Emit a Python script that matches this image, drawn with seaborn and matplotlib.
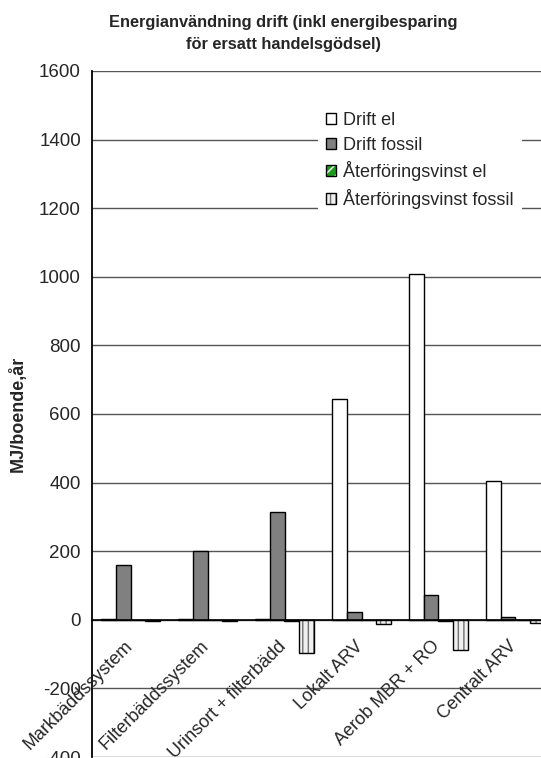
import numpy as np
import pandas as pd
import matplotlib
matplotlib.use("Agg")
import matplotlib.pyplot as plt
import matplotlib.transforms as mtransforms
from matplotlib.colors import to_rgba
import seaborn as sns

categories = ['Markbäddssystem', 'Filterbäddssystem', 'Urinsort + filterbädd',
              'Lokalt ARV', 'Aerob MBR + RO', 'Centralt ARV']
series = ['Drift el', 'Drift fossil', 'Återföringsvinst el', 'Återföringsvinst fossil']
drift_el = [3, 3, 3, 643, 1007, 405]
drift_fossil = [160, 200, 315, 22, 72, 8]
ater_el = [0, 0, -3, 0, -3, 0]
ater_fossil = [-4, -4, -98, -12, -88, -9]
yticks = [-400, -200, 0, 200, 400, 600, 800, 1000, 1200, 1400, 1600]
title1 = 'Energianvändning drift (inkl energibesparing'
title2 = 'för ersatt handelsgödsel)'
ylabel = 'MJ/boende,år'

sns.set_theme(style='white')
plt.rcParams['font.family'] = ['Liberation Sans', 'DejaVu Sans']

df = pd.DataFrame({
    'kategori': categories * 4,
    'serie': sum([[s] * len(categories) for s in series], []),
    'värde': drift_el + drift_fossil + ater_el + ater_fossil,
})

W, H = 541, 758
fig = plt.figure(figsize=(W / 100, H / 100), dpi=100)
ax = fig.add_axes([92 / W, 1 / H, (W - 92) / W, (757 - 71) / H])

palette = {'Drift el': 'white', 'Drift fossil': '#808080',
           'Återföringsvinst el': '#1f9a1f', 'Återföringsvinst fossil': '#efefef'}
sns.barplot(data=df, x='kategori', y='värde', hue='serie', order=categories,
            hue_order=series, palette=palette, width=0.76, saturation=1,
            edgecolor='black', linewidth=1.0, legend=False, ax=ax, zorder=3)

hatch_spec = {2: ('///', 'white'), 3: ('|||', '#707070')}
for i, cont in enumerate(ax.containers):
    if i in hatch_spec:
        h, hc = hatch_spec[i]
        for p in cont.patches:
            p.set_hatch(h)
            p._hatch_color = to_rgba(hc)

ax.set_ylim(-400, 1600)
ax.set_xlim(-0.5, -0.5 + (W - 92) / 77)
ax.set_yticks(yticks)
ax.set_yticklabels([str(v) for v in yticks], fontsize=13.5)
ax.yaxis.grid(True, color='#555555', lw=1.0, zorder=0)
ax.set_axisbelow(True)

ax.set_xticks(np.arange(0.5, len(categories) - 0.5, 1))
ax.set_xticklabels([])
ax.tick_params(axis='x', length=6, width=1, color='black', direction='out')
ax.tick_params(axis='y', length=5, width=1, color='black', direction='out', pad=3)
ax.set_xlabel('')
ax.set_ylabel(ylabel, fontsize=13, fontweight='bold')
ax.yaxis.set_label_coords(-0.145, 0.5)

for s in ['top', 'right']:
    ax.spines[s].set_visible(False)
ax.spines['left'].set_color('black')
ax.spines['left'].set_linewidth(1.3)
ax.spines['bottom'].set_position(('data', 0))
ax.spines['bottom'].set_color('black')
ax.spines['bottom'].set_linewidth(1.2)
ax.spines['bottom'].set_zorder(4)

off = mtransforms.ScaledTranslation(-7 / 100, -18 / 100, fig.dpi_scale_trans)
for i, c in enumerate(categories):
    ax.text(i, 0, c, rotation=45, ha='right', va='top', rotation_mode='anchor',
            fontsize=13, transform=ax.transData + off, clip_on=False)

leg = ax.legend(ax.containers, series, loc='upper left',
                bbox_to_anchor=(318 / W, 1 - 104 / H), bbox_transform=fig.transFigure,
                fontsize=13, frameon=True, facecolor='white', edgecolor='none',
                framealpha=1, fancybox=False, handlelength=0.55, handleheight=0.55,
                handletextpad=0.4, labelspacing=0.42, borderpad=0.45, borderaxespad=0)
leg.set_zorder(5)

fig.text(283 / W, 1 - 22 / H, title1, ha='center', va='center', fontsize=11.8, fontweight='bold')
fig.text(283 / W, 1 - 44 / H, title2, ha='center', va='center', fontsize=11.8, fontweight='bold')

fig.savefig('out.png', dpi=100)
